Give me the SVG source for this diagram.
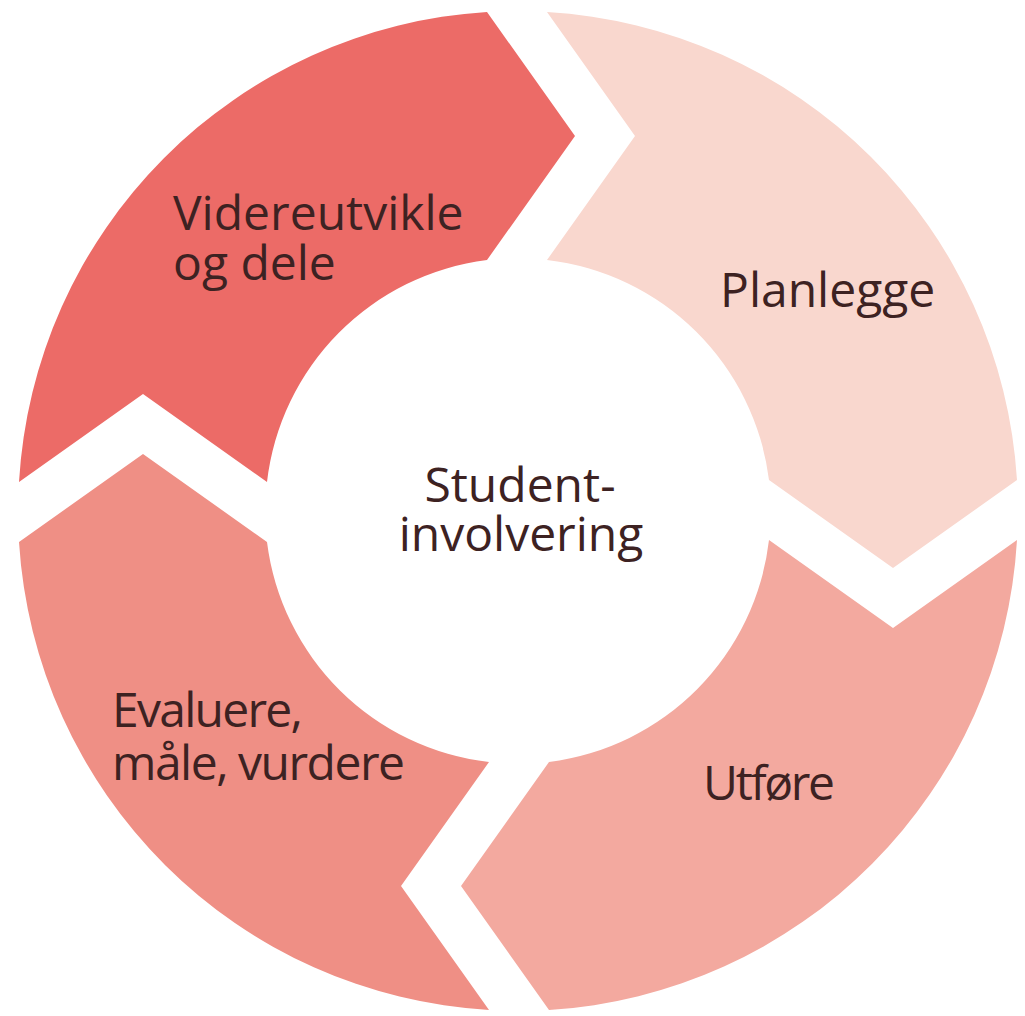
<svg xmlns="http://www.w3.org/2000/svg" width="1025" height="1016" viewBox="0 0 1025 1016">
  <defs>
    <style>
      .lbl { font-family: "Open Sans", "Noto Sans", "Liberation Sans", sans-serif; font-size: 48px; fill: #3d2222; }
      .seg { stroke: none; }
    </style>
    <path id="segShape" d="M547,12 A500,500 0 0 1 1017,480 L893,568 L769,480 A253,253 0 0 0 547,260 L635,136 Z"/>
  </defs>
  <rect width="1025" height="1016" fill="#ffffff"/>
  <g id="planlegge">
    <use href="#segShape" class="seg" fill="#F9D7CE"/>
    <text class="lbl" x="720" y="307">Planlegge</text>
  </g>
  <g id="utfore">
    <use href="#segShape" class="seg" fill="#F3A99F" transform="rotate(90 518 511)"/>
    <text class="lbl" x="703" y="800" textLength="132" lengthAdjust="spacing">Utføre</text>
  </g>
  <g id="evaluere">
    <use href="#segShape" class="seg" fill="#EF8F85" transform="rotate(180 518 511)"/>
    <text class="lbl" x="112" y="727" textLength="191" lengthAdjust="spacing">Evaluere,</text>
    <text class="lbl" x="112" y="780" textLength="293" lengthAdjust="spacing">måle, vurdere</text>
  </g>
  <g id="videreutvikle">
    <use href="#segShape" class="seg" fill="#EC6B67" transform="rotate(270 518 511)"/>
    <text class="lbl" x="173" y="230">Videreutvikle</text>
    <text class="lbl" x="173" y="280">og dele</text>
  </g>
  <g id="center">
    <text class="lbl" x="520" y="502" text-anchor="middle">Student-</text>
    <text class="lbl" x="521" y="551" text-anchor="middle">involvering</text>
  </g>
  <g id="connectors"/>
</svg>
